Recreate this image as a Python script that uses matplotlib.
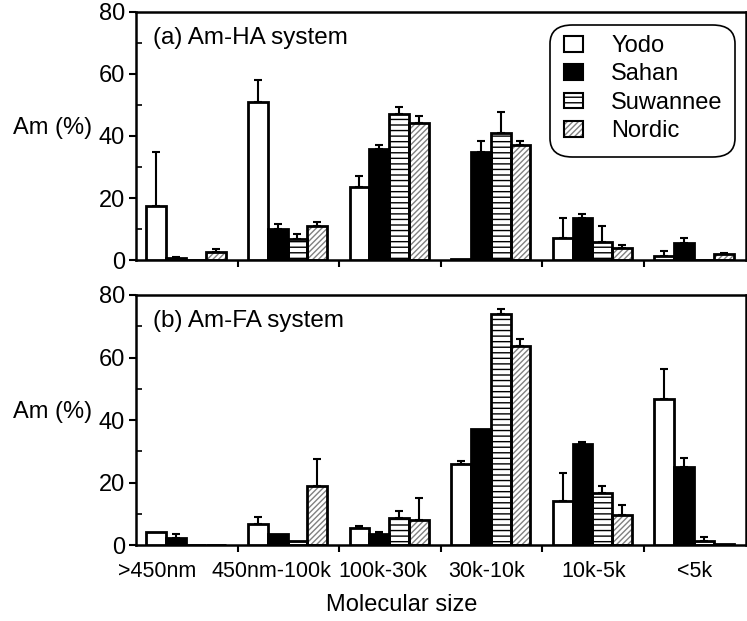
import numpy as np
import matplotlib
matplotlib.use('Agg')
import matplotlib.pyplot as plt
from matplotlib.patches import Patch, FancyBboxPatch
from matplotlib.legend_handler import HandlerTuple

plt.rcParams['font.family'] = ['Liberation Sans', 'DejaVu Sans']
plt.rcParams['hatch.linewidth'] = 1.0

sizes = ['>450nm', '450nm-100k', '100k-30k', '30k-10k', '10k-5k', '<5k']
series = ['Yodo', 'Sahan', 'Suwannee', 'Nordic']

# (a) Am-HA system: values and upper error bar lengths
ha_yodo = [17.4, 51.0, 23.6, 0.5, 7.0, 1.5]
ha_yodo_err = [17.6, 7.0, 3.4, 0.0, 6.6, 1.5]
ha_sahan = [0.6, 10.0, 35.8, 35.0, 13.6, 5.6]
ha_sahan_err = [0.5, 1.6, 1.2, 3.4, 1.4, 1.4]
ha_suwannee = [0.0, 6.8, 47.0, 41.0, 6.0, 0.0]
ha_suwannee_err = [0.0, 1.5, 2.3, 6.8, 5.0, 0.0]
ha_nordic = [2.6, 11.0, 44.3, 37.0, 3.8, 2.0]
ha_nordic_err = [0.9, 1.3, 2.2, 1.4, 1.0, 0.3]

# (b) Am-FA system
fa_yodo = [4.2, 6.7, 5.6, 26.0, 14.0, 46.7]
fa_yodo_err = [0.0, 2.3, 0.4, 0.8, 9.0, 9.6]
fa_sahan = [2.2, 3.5, 3.7, 37.0, 32.3, 25.0]
fa_sahan_err = [1.3, 0.0, 0.5, 0.0, 0.7, 3.0]
fa_suwannee = [0.0, 1.5, 8.6, 74.0, 16.6, 1.2]
fa_suwannee_err = [0.0, 0.0, 2.4, 1.5, 2.3, 1.4]
fa_nordic = [0.0, 19.0, 8.0, 63.7, 9.6, 0.5]
fa_nordic_err = [0.0, 8.5, 7.0, 2.3, 3.2, 0.0]

fills = ['white', 'black', 'white', 'white']
hatches = [None, None, '---', '//////']
hatch_cols = ['white', 'black', 'black', '#808080']
FS = 17

# label placement within each group (the original labels sit left of centre)
label_pos = [0.21, 1.33, 2.43, 3.45, 4.51, 5.50]

fig = plt.figure(figsize=(7.47, 6.21), dpi=100)
ax1 = fig.add_axes([0.182, 0.581, 0.816, 0.400])
ax2 = fig.add_axes([0.182, 0.122, 0.816, 0.403])

width = 0.195
offsets = [0.2, 0.395, 0.59, 0.785]
x = np.arange(len(sizes))


def draw(ax, vals, errs, label):
    for i in range(4):
        xs = x + offsets[i]
        if hatches[i]:
            ax.bar(xs, vals[i], width, color=fills[i], edgecolor=hatch_cols[i],
                   hatch=hatches[i], linewidth=0, zorder=2)
            ax.bar(xs, vals[i], width, fill=False, edgecolor='black', linewidth=2, zorder=3)
        else:
            ax.bar(xs, vals[i], width, color=fills[i], edgecolor='black', linewidth=2, zorder=3)
        e = np.array(errs[i])
        m = e > 0
        ax.errorbar(xs[m], np.array(vals[i])[m], yerr=[np.zeros(m.sum()), e[m]],
                    fmt='none', ecolor='black', elinewidth=1.5, capsize=3, capthick=1.5, zorder=1)
    ax.set_xlim(0, 6)
    ax.set_ylim(0, 80)
    ax.set_yticks([0, 20, 40, 60, 80])
    ax.set_yticks(np.arange(10, 80, 20), minor=True)
    ax.set_xticks(np.arange(1, 6))
    ax.set_xticklabels([])
    ax.tick_params(axis='y', which='major', labelsize=FS, length=5, width=1.5,
                   direction='out', pad=3)
    ax.tick_params(axis='y', which='minor', length=4, width=1.2, direction='in')
    ax.tick_params(axis='x', length=5, width=1.5, direction='out')
    for s in ax.spines.values():
        s.set_linewidth(1.8)
    ax.text(0.028, 0.94, label, transform=ax.transAxes, fontsize=17.5, va='top')
    ax.text(-0.202, 0.51, 'Am (%)', transform=ax.transAxes, fontsize=FS, va='baseline')


draw(ax1, [ha_yodo, ha_sahan, ha_suwannee, ha_nordic],
     [ha_yodo_err, ha_sahan_err, ha_suwannee_err, ha_nordic_err], '(a) Am-HA system')
draw(ax2, [fa_yodo, fa_sahan, fa_suwannee, fa_nordic],
     [fa_yodo_err, fa_sahan_err, fa_suwannee_err, fa_nordic_err], '(b) Am-FA system')

ax2.set_xticks(label_pos, labels=sizes, minor=True)
ax2.tick_params(axis='x', which='minor', length=0, labelsize=15.5, pad=11)
ax2.set_xlabel('Molecular size', fontsize=FS)
ax2.xaxis.set_label_coords(0.436, -0.195)

handles = []
for i in range(4):
    if hatches[i]:
        h = (Patch(facecolor='white', edgecolor=hatch_cols[i], hatch=hatches[i], linewidth=0),
             Patch(fill=False, edgecolor='black', linewidth=1.5))
    else:
        h = (Patch(facecolor=fills[i], edgecolor='black', linewidth=1.5),)
    handles.append(h)

leg = ax1.legend(handles, series, handler_map={tuple: HandlerTuple(ndivide=1, pad=0)},
                 loc='upper left', bbox_to_anchor=(564 / 747, 1 - 35 / 621),
                 bbox_transform=fig.transFigure, fontsize=FS, handlelength=0.8,
                 handleheight=0.65, handletextpad=1.2, labelspacing=0.27,
                 borderpad=0.0, borderaxespad=0.0, frameon=False)

# rounded legend box
box = FancyBboxPatch((550 / 747, 1 - 157 / 621), 185 / 747, 132 / 621,
                     boxstyle='round,pad=0,rounding_size=0.03', transform=fig.transFigure,
                     facecolor='white', edgecolor='black', linewidth=1.2, zorder=4)
ax1.add_artist(box)
box.set_clip_on(False)
leg.set_zorder(5)

fig.savefig('out.png', dpi=100)
